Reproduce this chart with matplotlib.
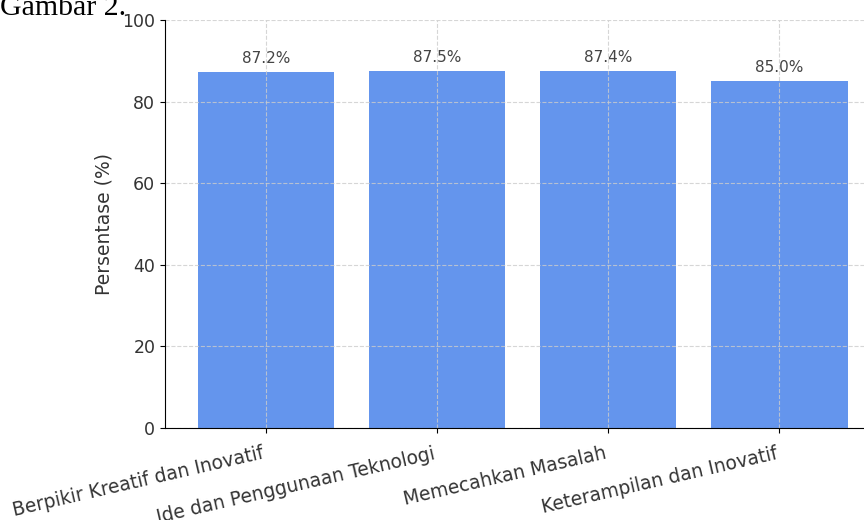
import matplotlib.pyplot as plt
import numpy as np

indikator = ["Berpikir Kreatif dan Inovatif", "Ide dan Penggunaan Teknologi",
             "Memecahkan Masalah", "Keterampilan dan Inovatif"]
persentase = [87.2, 87.5, 87.4, 85.0]
yticks = [0, 20, 40, 60, 80, 100]

fig = plt.figure(figsize=(8.64, 5.2), dpi=100)
# axes run past the right edge, like the cropped original
ax = fig.add_axes([165/864, 1 - 428/520, 715/864, 408/520])

x = np.arange(len(indikator))
bars = ax.bar(x, persentase, width=0.8, color="cornflowerblue")
for b, v in zip(bars, persentase):
    ax.text(b.get_x() + b.get_width()/2, v + 1.5, "{:.1f}%".format(v),
            ha="center", va="bottom", fontsize=11, color="#444444")

ax.set_xlim(-0.59, 3.59)
ax.set_ylim(0, 100)
ax.set_yticks(yticks)
ax.set_xticks(x)
ax.set_xticklabels(indikator, rotation=13, ha="right", fontsize=13.4, color="#333333")
ax.tick_params(axis="x", pad=8)
ax.tick_params(axis="y", labelsize=12.5, labelcolor="#333333")
ax.set_ylabel("Persentase (%)", fontsize=13.5, color="#333333", labelpad=6)
ax.spines["top"].set_visible(False)
ax.spines["right"].set_visible(False)
ax.grid(True, linestyle="--", color="#cccccc", alpha=0.8, linewidth=0.8)

fig.text(0.0, 1 - 15/520, "Gambar 2.", family="Liberation Serif", fontsize=21.5,
         ha="left", va="baseline", color="black")

fig.savefig("out.png", dpi=100)
